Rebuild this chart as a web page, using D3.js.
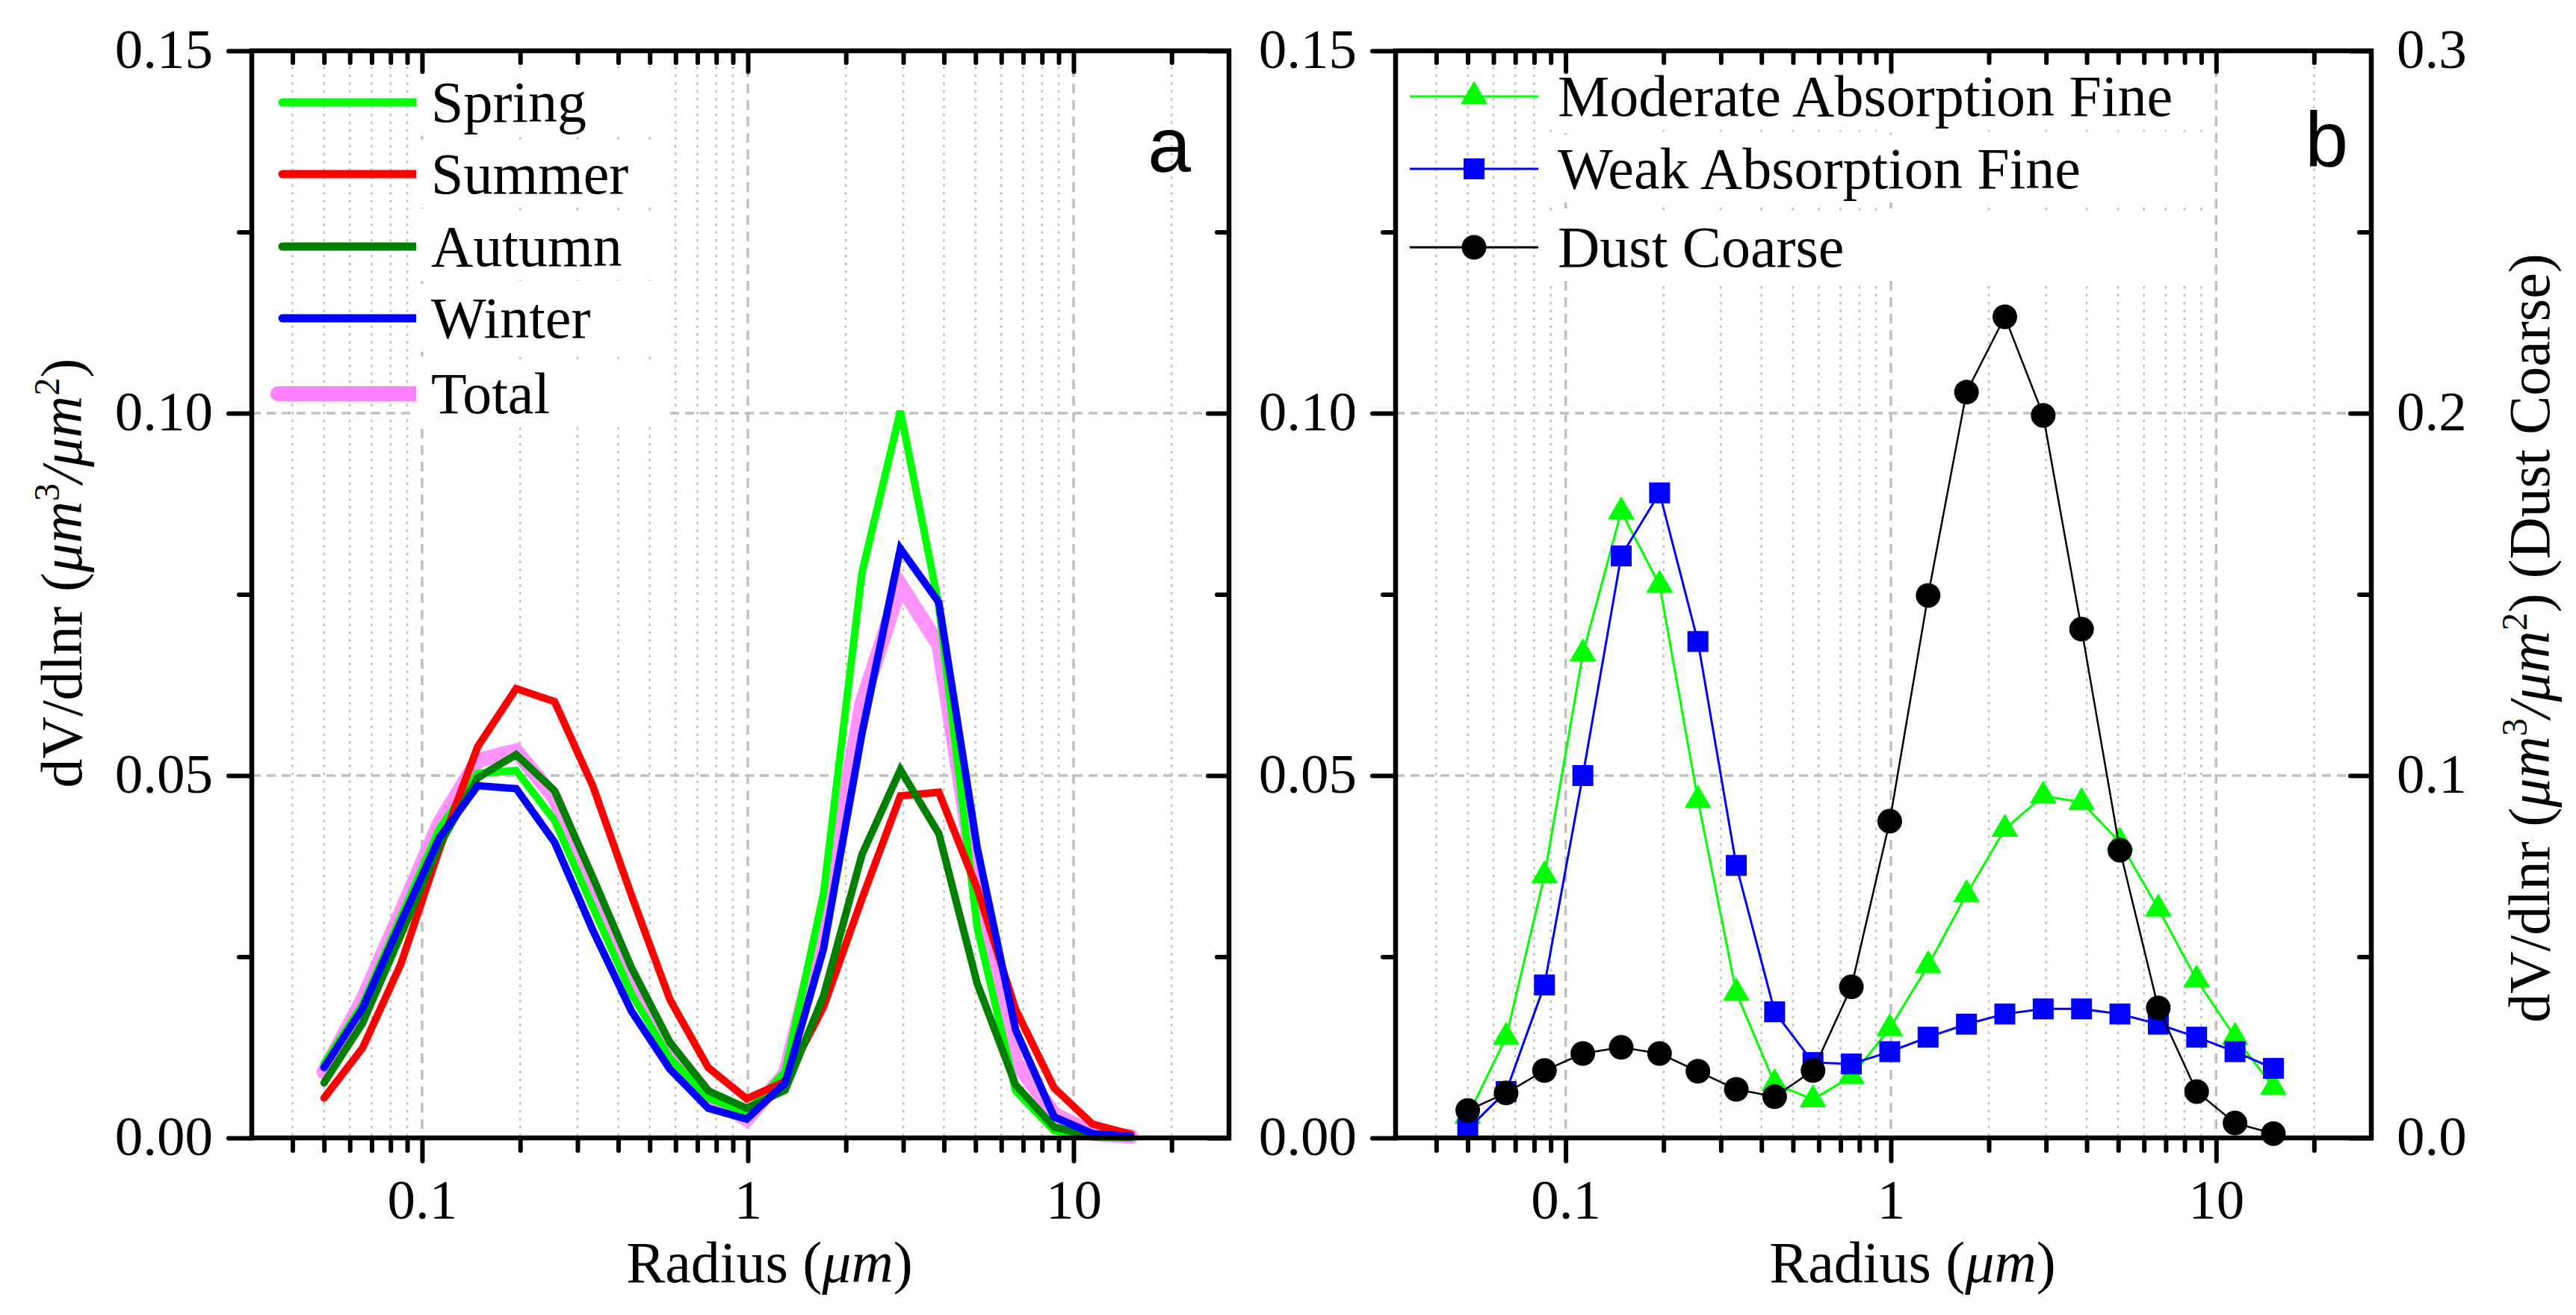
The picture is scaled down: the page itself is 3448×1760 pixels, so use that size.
<!DOCTYPE html>
<html>
<head>
<meta charset="utf-8">
<script src="https://cdn.jsdelivr.net/npm/d3@7"></script>
<style>
  body { margin: 0; background: #fff; }
  text { font-family: "Liberation Serif", "Times New Roman", serif; }
</style>
</head>
<body>
<div id="chart"></div>
<script>
// radius bins (um)
const radius = [0.05, 0.065604, 0.086077, 0.112939, 0.148184, 0.194429, 0.255105, 0.334716,
  0.439173, 0.576227, 0.756052, 0.991996, 1.301571, 1.707757, 2.240702, 2.939966,
  3.857452, 5.06126, 6.640745, 8.713145, 11.432287, 15.0];

// panel a: seasonal volume size distributions
const seasonNames = ["Spring", "Summer", "Autumn", "Winter", "Total"];
const spring = [0.0102, 0.0184, 0.0305, 0.0426, 0.0503, 0.0507, 0.0438, 0.0318, 0.0199, 0.0110, 0.0055,
  0.0035, 0.0091, 0.0337, 0.0780, 0.1003, 0.0734, 0.0290, 0.0065, 0.0010, 0.0002, 0.0000];
const summer = [0.0055, 0.0124, 0.0240, 0.0398, 0.0540, 0.0620, 0.0602, 0.0485, 0.0335, 0.0191, 0.0097,
  0.0054, 0.0078, 0.0181, 0.0330, 0.0472, 0.0477, 0.0344, 0.0177, 0.0069, 0.0019, 0.0005];
const autumn = [0.0076, 0.0158, 0.0280, 0.0404, 0.0497, 0.0529, 0.0479, 0.0359, 0.0235, 0.0132, 0.0065,
  0.0041, 0.0066, 0.0196, 0.0391, 0.0508, 0.0420, 0.0213, 0.0073, 0.0015, 0.0002, 0.0001];
const winter = [0.0097, 0.0179, 0.0298, 0.0414, 0.0486, 0.0482, 0.0408, 0.0286, 0.0175, 0.0095, 0.0041,
  0.0026, 0.0076, 0.0261, 0.0558, 0.0813, 0.0739, 0.0400, 0.0149, 0.0029, 0.0006, 0.0002];
const total = [0.0091, 0.0190, 0.0311, 0.0434, 0.0521, 0.0534, 0.0469, 0.0339, 0.0217, 0.0122, 0.0059,
  0.0026, 0.0088, 0.0300, 0.0600, 0.0763, 0.0680, 0.0340, 0.0105, 0.0033, 0.0006, 0.0002];

// panel b: aerosol types (dust on the right axis)
const typeNames = ["Moderate Absorption Fine", "Weak Absorption Fine", "Dust Coarse"];
const moderateFine = [0.0030, 0.0139, 0.0362, 0.0668, 0.0864, 0.0763, 0.0466, 0.0200, 0.0075, 0.0053, 0.0085,
  0.0151, 0.0238, 0.0336, 0.0426, 0.0472, 0.0463, 0.0408, 0.0316, 0.0218, 0.0139, 0.0070];
const weakFine = [0.0012, 0.0064, 0.0211, 0.0500, 0.0803, 0.0890, 0.0685, 0.0376, 0.0174, 0.0104, 0.0102,
  0.0119, 0.0139, 0.0157, 0.0171, 0.0178, 0.0178, 0.0171, 0.0157, 0.0139, 0.0119, 0.0096];
const dustCoarse = [0.0076, 0.0124, 0.0186, 0.0233, 0.0250, 0.0233, 0.0184, 0.0134, 0.0114, 0.0186, 0.0417,
  0.0874, 0.1497, 0.2058, 0.2266, 0.1994, 0.1404, 0.0794, 0.0359, 0.0128, 0.0041, 0.0012];

// ticks
const xTicks = [0.1, 1, 10];
const xMinor = [0.04, 0.05, 0.06, 0.07, 0.08, 0.09, 0.2, 0.3, 0.4, 0.5, 0.6, 0.7, 0.8, 0.9,
  2, 3, 4, 5, 6, 7, 8, 9, 20];
const yTicks = [0, 0.05, 0.10, 0.15];
const yMinor = [0.025, 0.075, 0.125];
const yGrid = [0.05, 0.10];
const dustTicks = [0, 0.1, 0.2, 0.3];
const dustMinor = [0.05, 0.15, 0.25];

const svg = d3.select("#chart").append("svg")
  .attr("width", 3448)
  .attr("height", 1760)
  .style("display", "block");

const gridColor = "#c0c0c0";
const tickFont = 75;

function makePanel(left, right, top, bottom) {
  const w = right - left, h = bottom - top;
  const g = svg.append("g").attr("transform", `translate(${left},${top})`);
  const x = d3.scaleLog().domain([0.03, 30]).range([0, w]);
  const y = d3.scaleLinear().domain([0, 0.15]).range([h, 0]);

  // grid
  const grid = g.append("g");
  grid.selectAll(".minor").data(xMinor).join("line")
    .attr("x1", d => x(d)).attr("x2", d => x(d))
    .attr("y1", 0).attr("y2", h)
    .attr("stroke", gridColor).attr("stroke-width", 2.5)
    .attr("stroke-dasharray", "3.5 7");
  grid.selectAll(".major").data(xTicks).join("line")
    .attr("x1", d => x(d)).attr("x2", d => x(d))
    .attr("y1", 0).attr("y2", h)
    .attr("stroke", gridColor).attr("stroke-width", 3.5)
    .attr("stroke-dasharray", "13 9");
  grid.selectAll(".hgrid").data(yGrid).join("line")
    .attr("x1", 0).attr("x2", w)
    .attr("y1", d => y(d)).attr("y2", d => y(d))
    .attr("stroke", gridColor).attr("stroke-width", 3.5)
    .attr("stroke-dasharray", "12 8");

  return {g, x, y, w, h};
}

function styleAxis(sel) {
  sel.select(".domain").remove();
  sel.attr("font-family", null).attr("font-size", tickFont);
  sel.selectAll(".tick line").attr("stroke", "#000").attr("stroke-width", 6).attr("stroke-linecap", "round");
  sel.selectAll(".tick text").attr("fill", "#000");
}

function drawFrame(p, rightScale, rightTicks, rightMinor, rightFmt) {
  const {g, x, y, w, h} = p;
  // bottom
  g.append("g").attr("transform", `translate(0,${h})`)
    .call(d3.axisBottom(x).tickValues(xMinor).tickSize(17).tickFormat(""))
    .call(styleAxis);
  g.append("g").attr("transform", `translate(0,${h})`)
    .call(d3.axisBottom(x).tickValues(xTicks).tickSize(31).tickFormat(d => String(d)))
    .call(styleAxis)
    .call(s => s.selectAll(".tick text").attr("dy", null).attr("y", 108));
  // top (inward)
  g.append("g")
    .call(d3.axisTop(x).tickValues(xMinor).tickSize(-16).tickFormat(""))
    .call(styleAxis);
  g.append("g")
    .call(d3.axisTop(x).tickValues(xTicks).tickSize(-28).tickFormat(""))
    .call(styleAxis);
  // left (outward)
  g.append("g")
    .call(d3.axisLeft(y).tickValues(yMinor).tickSize(17).tickFormat(""))
    .call(styleAxis);
  g.append("g")
    .call(d3.axisLeft(y).tickValues(yTicks).tickSize(31).tickFormat(d3.format(".2f")))
    .call(styleAxis)
    .call(s => s.selectAll(".tick text").attr("x", -52).attr("dy", "0.3em"));
  // right (inward)
  g.append("g").attr("transform", `translate(${w},0)`)
    .call(d3.axisRight(rightScale).tickValues(rightMinor).tickSize(-16).tickFormat(""))
    .call(styleAxis);
  g.append("g").attr("transform", `translate(${w},0)`)
    .call(d3.axisRight(rightScale).tickValues(rightTicks).tickSize(-28).tickFormat(rightFmt))
    .call(styleAxis)
    .call(s => s.selectAll(".tick text").attr("x", 34).attr("dy", "0.3em"));

  g.append("rect")
    .attr("width", w).attr("height", h)
    .attr("fill", "none").attr("stroke", "#000").attr("stroke-width", 6.5);

  // x title
  const xt = g.append("text")
    .attr("x", w / 2 + 39).attr("y", h + 193)
    .attr("text-anchor", "middle").attr("font-size", 78);
  xt.append("tspan").text("Radius (");
  xt.append("tspan").attr("font-style", "italic").text("μm");
  xt.append("tspan").text(")");
}

function unitTitle(t, extra) {
  t.append("tspan").text("dV/dlnr (");
  t.append("tspan").attr("font-style", "italic").text("μm");
  t.append("tspan").attr("font-size", 48).attr("dy", -30).text("3");
  t.append("tspan").attr("font-style", "italic").attr("dy", 30).text("/μm");
  t.append("tspan").attr("font-size", 48).attr("dy", -30).text("2");
  t.append("tspan").attr("dy", 30).text(")" + (extra || ""));
}

function legendBoxes(g, x0, rows, names, boxH) {
  // white backgrounds behind legend text (hide grid)
  const box = g.append("g");
  const texts = names.map((n, i) => g.append("text").attr("x", x0).attr("y", rows[i] + 26)
    .attr("font-size", 78).text(n));
  const wmax = d3.max(texts, t => t.node().getComputedTextLength());
  box.selectAll("rect").data(rows).join("rect")
    .attr("x", x0 - 20).attr("y", d => d - 46)
    .attr("width", wmax + 70).attr("height", boxH)
    .attr("fill", "#fff");
}

// ---------- panel a ----------
const pa = makePanel(337, 1645, 68, 1523);
const seasonColors = ["#00ff00", "#ff0000", "#008000", "#0000ff", "#ff80ff"];
const seasonSeries = [spring, summer, autumn, winter, total];

const lineA = d3.line().x(d => pa.x(d[0])).y(d => pa.y(d[1]));
// total underneath, then the seasons
[4, 0, 1, 2, 3].forEach(i => {
  pa.g.append("path")
    .datum(d3.zip(radius, seasonSeries[i]))
    .attr("d", lineA)
    .attr("fill", "none")
    .attr("stroke", seasonColors[i])
    .attr("stroke-opacity", i === 4 ? 0.85 : 1)
    .attr("stroke-width", i === 4 ? 20 : 10)
    .attr("stroke-linecap", "round");
});

const legRowsA = [137, 233, 330, 426, 527].map(v => v - 68);
seasonNames.forEach((n, i) => {
  pa.g.append("line")
    .attr("x1", (i === 4 ? 372 : 378) - 337).attr("x2", 556 - 337)
    .attr("y1", legRowsA[i]).attr("y2", legRowsA[i])
    .attr("stroke", seasonColors[i])
    .attr("stroke-width", i === 4 ? 20 : 11)
    .attr("stroke-linecap", "round");
});
legendBoxes(pa.g, 577 - 337, legRowsA, seasonNames, 91);

drawFrame(pa, pa.y, yTicks, yMinor, "");
pa.g.append("text").attr("x", 1594 - 337).attr("y", 230 - 68)
  .attr("text-anchor", "end").attr("font-size", 104)
  .style("font-family", "'Liberation Sans', Arial, sans-serif").text("a");

const ytA = svg.append("text")
  .attr("transform", "translate(109,767) rotate(-90)")
  .attr("text-anchor", "middle").attr("font-size", 78);
unitTitle(ytA);

// ---------- panel b ----------
const pb = makePanel(1868, 3174, 68, 1523);
const yDust = d3.scaleLinear().domain([0, 0.3]).range([pb.h, 0]);
const typeColors = ["#00ff00", "#0000ff", "#000000"];

const triangle = "M0,-20.7L18,10.3L-18,10.3Z";
const square = "M-14,-14H14V14H-14Z";

const legRowsB = [129, 226, 331].map(v => v - 68);
legendBoxes(pb.g, 2085 - 1868, legRowsB, typeNames, 91);

function markerPath(sel, i) {
  if (i === 2) return sel.append("circle").attr("r", 16.5).attr("fill", "#000");
  return sel.append("path").attr("d", i === 0 ? triangle : square).attr("fill", typeColors[i]);
}

const typeSeries = [moderateFine, weakFine, dustCoarse];
typeSeries.forEach((s, i) => {
  const ys = i === 2 ? yDust : pb.y;
  const pts = d3.zip(radius, s);
  pb.g.append("path")
    .datum(pts)
    .attr("d", d3.line().x(d => pb.x(d[0])).y(d => ys(d[1])))
    .attr("fill", "none")
    .attr("stroke", typeColors[i])
    .attr("stroke-width", i === 2 ? 2.5 : 3);
  pts.forEach(d => {
    const m = pb.g.append("g").attr("transform", `translate(${pb.x(d[0])},${ys(d[1])})`);
    markerPath(m, i);
  });
  // legend symbol
  pb.g.append("line")
    .attr("x1", 1887 - 1868).attr("x2", 2059 - 1868)
    .attr("y1", legRowsB[i]).attr("y2", legRowsB[i])
    .attr("stroke", typeColors[i]).attr("stroke-width", 3);
  markerPath(pb.g.append("g").attr("transform", `translate(${1973 - 1868},${legRowsB[i]})`), i);
});

drawFrame(pb, yDust, dustTicks, dustMinor, d3.format(".1f"));
pb.g.append("text").attr("x", 3143 - 1868).attr("y", 222 - 68)
  .attr("text-anchor", "end").attr("font-size", 104)
  .style("font-family", "'Liberation Sans', Arial, sans-serif").text("b");

const ytB = svg.append("text")
  .attr("transform", "translate(3412,854) rotate(-90)")
  .attr("text-anchor", "middle").attr("font-size", 78);
unitTitle(ytB, " (Dust Coarse)");
</script>
</body>
</html>
